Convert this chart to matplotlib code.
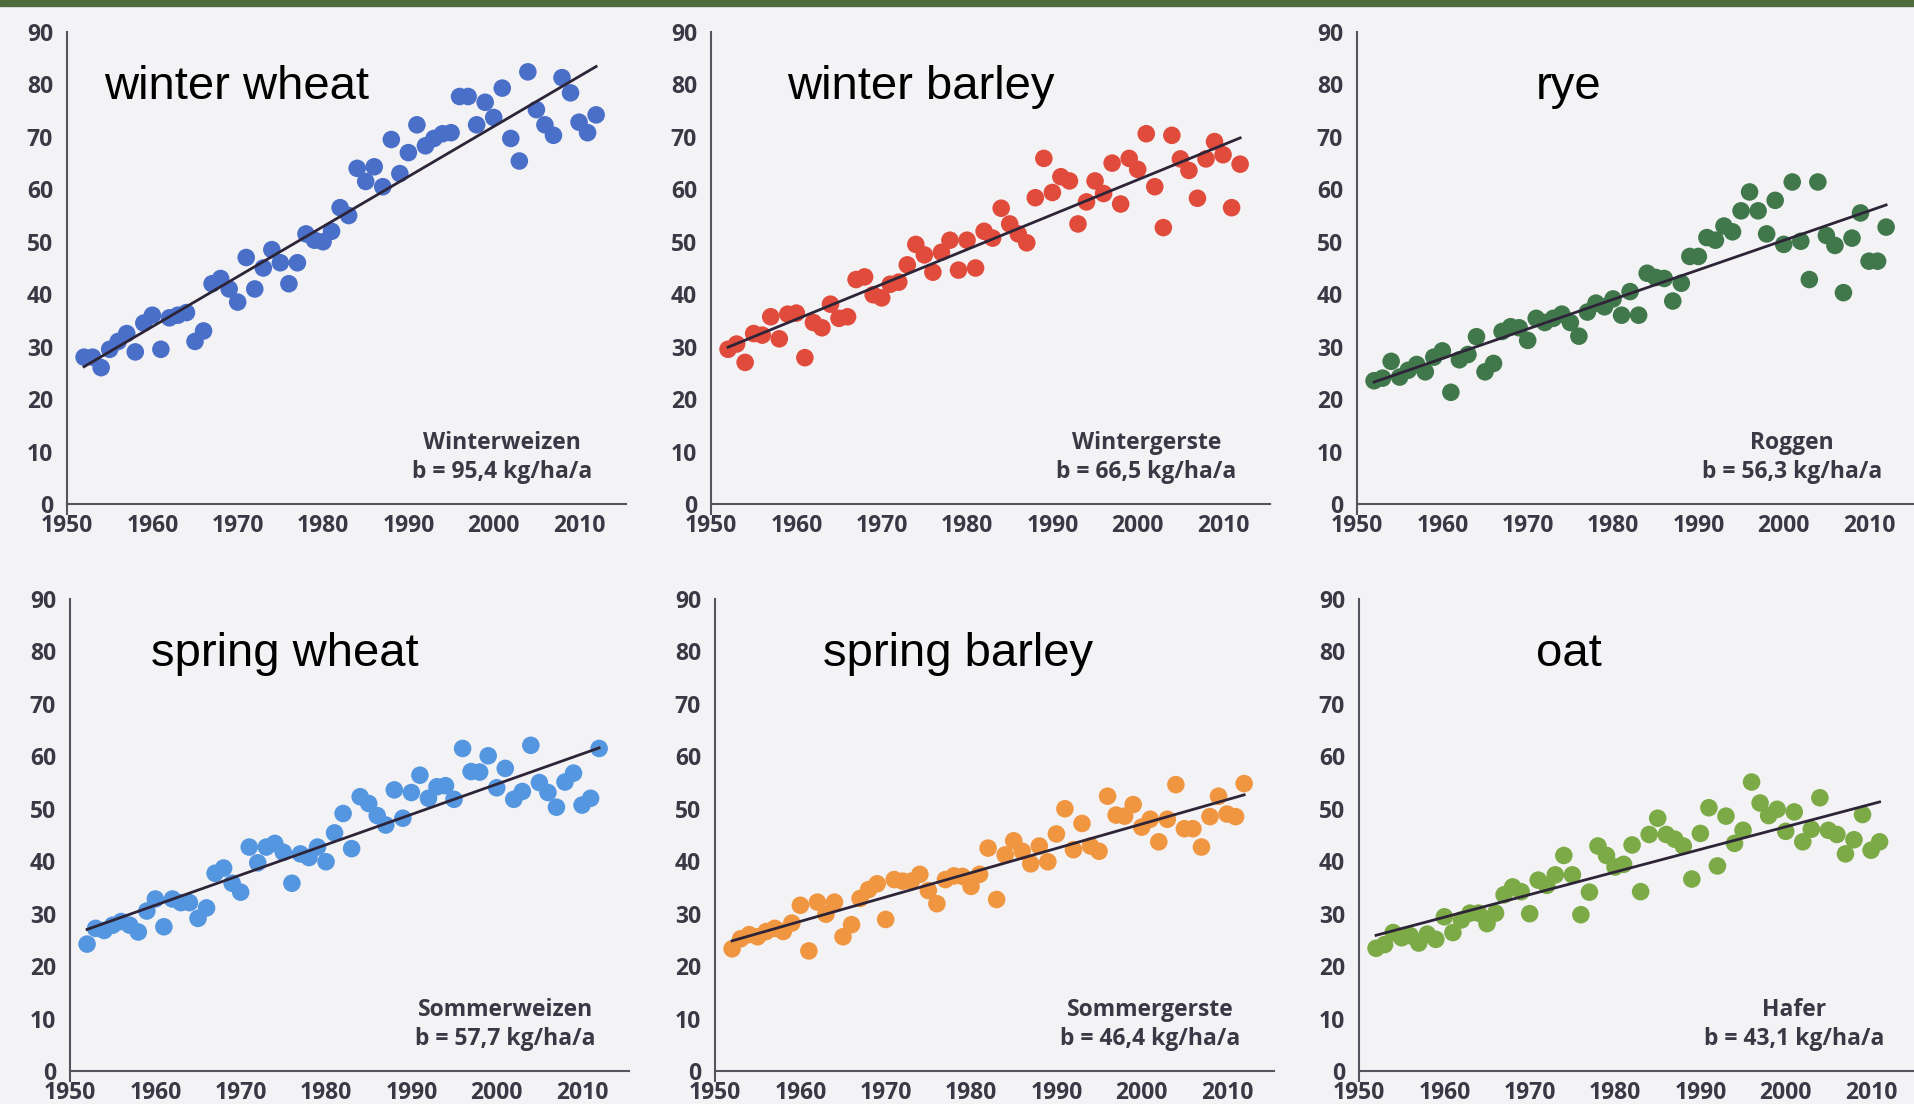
import numpy as np
import matplotlib
matplotlib.use("Agg")
import matplotlib.pyplot as plt
from matplotlib.patches import Rectangle

# Erträge in dt/ha, jährlich ab 1952
winterweizen = [28, 28, 26, 29.5, 31, 32.5, 29, 34.5, 36, 29.5,
                35.5, 36, 36.5, 31, 33, 42, 43, 41, 38.5, 47,
                41, 45, 48.5, 46, 42, 46, 51.5, 50.3, 50, 52,
                56.5, 55, 64, 61.5, 64.3, 60.5, 69.5, 63, 67, 72.3,
                68.3, 69.7, 70.6, 70.8, 77.7, 77.7, 72.3, 76.6, 73.7, 79.3,
                69.7, 65.4, 82.4, 75.2, 72.3, 70.3, 81.3, 78.4, 72.8, 70.8, 74.2]
wintergerste = [29.5, 30.5, 27, 32.5, 32.2, 35.7, 31.5, 36.2, 36.4, 27.9,
                34.6, 33.6, 38.1, 35.4, 35.7, 42.8, 43.3, 39.9, 39.3, 41.9,
                42.3, 45.6, 49.5, 47.5, 44.2, 48, 50.3, 44.6, 50.3, 45,
                52, 50.7, 56.4, 53.4, 51.5, 49.8, 58.4, 65.9, 59.4, 62.4,
                61.6, 53.4, 57.6, 61.6, 59.2, 65, 57.2, 65.9, 63.8, 70.6,
                60.5, 52.7, 70.3, 65.8, 63.6, 58.3, 65.8, 69.1, 66.6, 56.5, 64.8]
roggen = [23.5, 24, 27.2, 24.2, 25.5, 26.6, 25.2, 28, 29.2, 21.3,
          27.5, 28.5, 31.9, 25.2, 26.8, 32.9, 33.8, 33.6, 31.2, 35.4,
          34.6, 35.4, 36.2, 34.6, 32, 36.6, 38.3, 37.6, 39.1, 36,
          40.5, 36, 44, 43.2, 43, 38.7, 42.1, 47.2, 47.2, 50.8,
          50.3, 53, 51.9, 55.9, 59.5, 55.9, 51.5, 57.9, 49.5, 61.4,
          50.1, 42.8, 61.4, 51.2, 49.3, 40.3, 50.7, 55.5, 46.3, 46.3, 52.8]
sommerweizen = [24.2, 27.2, 26.8, 27.8, 28.5, 27.8, 26.5, 30.5, 32.8, 27.5,
                32.8, 32.1, 32.1, 29.1, 31.1, 37.7, 38.7, 35.8, 34.1, 42.7,
                39.7, 42.7, 43.4, 41.7, 35.8, 41.4, 40.7, 42.7, 39.9, 45.4,
                49.1, 42.4, 52.3, 51, 48.7, 46.9, 53.6, 48.2, 53.1, 56.4,
                52, 54.2, 54.4, 51.8, 61.5, 57.1, 57, 60.1, 54, 57.7,
                51.8, 53.3, 62.1, 55, 53.1, 50.3, 55.1, 56.8, 50.7, 52, 61.5]
sommergerste = [23.3, 25.2, 26, 25.6, 26.6, 27.2, 26.6, 28.2, 31.6, 22.9,
                32.2, 29.9, 32.2, 25.6, 27.9, 32.9, 34.6, 35.7, 28.9, 36.5,
                36.2, 36.2, 37.5, 34.4, 31.9, 36.5, 37.2, 37.1, 35.2, 37.5,
                42.5, 32.7, 41.2, 43.9, 41.9, 39.5, 42.9, 39.9, 45.2, 50,
                42.2, 47.2, 42.9, 41.9, 52.4, 48.8, 48.6, 50.8, 46.5, 48,
                43.7, 48, 54.6, 46.2, 46.2, 42.7, 48.5, 52.4, 49, 48.5, 54.8]
hafer = [23.4, 24.1, 26.4, 25.4, 25.8, 24.4, 26.1, 25.1, 29.4, 26.4,
         28.8, 30.1, 30.1, 28.1, 30.1, 33.6, 35.1, 34.2, 30, 36.4,
         35.4, 37.4, 41.1, 37.4, 29.8, 34.1, 42.9, 41.1, 38.9, 39.4,
         43.1, 34.2, 45.1, 48.2, 45.1, 44.2, 42.9, 36.6, 45.3, 50.2,
         39.1, 48.6, 43.4, 45.9, 55.1, 51.1, 48.7, 49.9, 45.7, 49.4,
         43.7, 46.1, 52.1, 45.9, 45.1, 41.4, 44.1, 48.9, 42.1, 43.7]

serien = [winterweizen, wintergerste, roggen, sommerweizen, sommergerste, hafer]
namen_en = ["winter wheat", "winter barley", "rye", "spring wheat", "spring barley", "oat"]
namen_de = ["Winterweizen", "Wintergerste", "Roggen", "Sommerweizen", "Sommergerste", "Hafer"]
trend_b = [95.4, 66.5, 56.3, 57.7, 46.4, 43.1]  # kg/ha/a
farben = ["#4a6fc8", "#e04b3c", "#41784b", "#5596e0", "#f09641", "#7caa46"]
startjahr = 1952

# Lage der Panels in Pixeln (links, unten) bei 1915x1104
W, H = 1915, 1104
lagen = [(67, 504), (711, 504), (1357, 504), (70, 1071), (715, 1071), (1359, 1071)]
titel_x = [1969.9, 1974.6, 1974.8, 1975.2, 1978.5, 1974.6]

bg = "#f3f3f6"
txtfarbe = "#3a3844"
schrift = ["Open Sans", "Noto Sans", "DejaVu Sans"]

fig = plt.figure(figsize=(W / 100, H / 100), dpi=100, facecolor=bg)
fig.patches.append(Rectangle((0, 1 - 6 / H), 1, 6 / H, transform=fig.transFigure,
                             color="#4d6b3c", zorder=5))

for i, werte in enumerate(serien):
    lx, by = lagen[i]
    ax = fig.add_axes([lx / W, 1 - by / H, 559 / W, 472 / H])
    ax.set_facecolor(bg)
    jahre = np.arange(startjahr, startjahr + len(werte))
    y = np.array(werte)

    ax.scatter(jahre, y, s=160, color=farben[i], edgecolors="none", zorder=3)

    # Trendgerade mit der angegebenen Steigung durch den Schwerpunkt
    b = trend_b[i] / 100.0
    y0 = y.mean() - b * jahre.mean()
    xs = np.array([jahre[0], jahre[-1]])
    ax.plot(xs, y0 + b * xs, color="#2d2438", lw=2, zorder=4)

    ax.set_xlim(1950, 2015.5)
    ax.set_ylim(0, 90)
    ax.set_xticks(range(1950, 2011, 10))
    ax.set_yticks(range(0, 91, 10))
    for s in ["top", "right"]:
        ax.spines[s].set_visible(False)
    for s in ["left", "bottom"]:
        ax.spines[s].set_color("#55535e")
        ax.spines[s].set_linewidth(1.5)
    ax.spines["left"].set_bounds(-2, 90)
    ax.tick_params(length=0, labelsize=16.5, labelcolor=txtfarbe)
    ax.tick_params(axis="y", pad=10)
    ax.tick_params(axis="x", pad=7)
    for lab in ax.get_xticklabels() + ax.get_yticklabels():
        lab.set_family(schrift)
        lab.set_fontweight("bold")
    for lab in ax.get_yticklabels():
        lab.set_verticalalignment("center_baseline")

    ax.text(titel_x[i], 79.5, namen_en[i], ha="center", va="center",
            fontsize=34, family="Liberation Sans", color="black")
    ax.text(2001, 8.9, f"{namen_de[i]}\nb = {str(trend_b[i]).replace('.', ',')} kg/ha/a",
            ha="center", va="center", multialignment="center", linespacing=1.3,
            fontsize=16.5, family=schrift, fontweight="bold", color=txtfarbe)

fig.savefig("out.png", dpi=100, facecolor=bg)
